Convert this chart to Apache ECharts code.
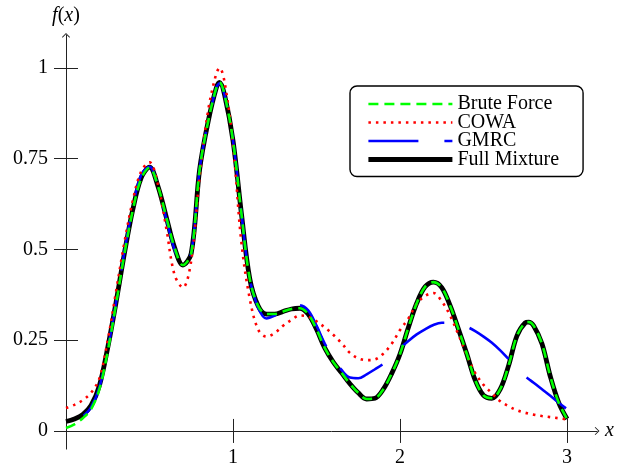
<!DOCTYPE html>
<html>
<head>
<meta charset="utf-8">
<script src="https://cdn.jsdelivr.net/npm/echarts@6/dist/echarts.min.js"></script>
<style>
html, body { margin: 0; padding: 0; background: #fff; }
#chart { width: 618px; height: 465px; }
</style>
</head>
<body>
<div id="chart"></div>
<script>
var xs = [0, 0.05, 0.1, 0.15, 0.2, 0.25, 0.3, 0.35, 0.4, 0.45, 0.5, 0.55, 0.6, 0.65, 0.7, 0.75,
	0.8, 0.85, 0.9, 0.92, 0.95, 1, 1.05, 1.1, 1.15, 1.2, 1.25, 1.3, 1.35, 1.4, 1.45, 1.5,
	1.55, 1.6, 1.65, 1.7, 1.75, 1.8, 1.85, 1.9, 1.95, 2, 2.05, 2.1, 2.15, 2.2, 2.25, 2.3,
	2.35, 2.4, 2.45, 2.5, 2.55, 2.6, 2.65, 2.7, 2.75, 2.77, 2.8, 2.85, 2.9, 2.95, 3];

var fullMixture = [0.026, 0.033, 0.045, 0.07, 0.125, 0.23, 0.355, 0.49, 0.61, 0.697, 0.727, 0.675, 0.59, 0.505, 0.457, 0.49,
	0.72, 0.85, 0.945, 0.96, 0.925, 0.8, 0.6, 0.42, 0.345, 0.322, 0.322, 0.329, 0.336, 0.338, 0.322, 0.28,
	0.228, 0.19, 0.16, 0.13, 0.105, 0.088, 0.09, 0.115, 0.158, 0.212, 0.285, 0.352, 0.397, 0.41, 0.395, 0.345,
	0.28, 0.212, 0.14, 0.098, 0.09, 0.115, 0.18, 0.262, 0.298, 0.3, 0.29, 0.24, 0.15, 0.078, 0.033];

var bruteForce = [0.008, 0.018, 0.035, 0.06, 0.115, 0.22, 0.35, 0.488, 0.608, 0.695, 0.725, 0.675, 0.59, 0.505, 0.457, 0.49,
	0.72, 0.85, 0.945, 0.96, 0.925, 0.8, 0.6, 0.42, 0.345, 0.322, 0.322, 0.329, 0.336, 0.338, 0.322, 0.28,
	0.228, 0.19, 0.16, 0.13, 0.105, 0.088, 0.09, 0.115, 0.158, 0.212, 0.285, 0.352, 0.397, 0.41, 0.395, 0.345,
	0.28, 0.212, 0.14, 0.098, 0.09, 0.115, 0.18, 0.262, 0.298, 0.3, 0.29, 0.24, 0.15, 0.078, 0.033];

var gmrc = [0.017, 0.025, 0.04, 0.065, 0.12, 0.225, 0.355, 0.495, 0.618, 0.705, 0.728, 0.675, 0.585, 0.5, 0.455, 0.49,
	0.72, 0.85, 0.945, 0.958, 0.925, 0.8, 0.6, 0.42, 0.34, 0.31, 0.318, 0.332, 0.342, 0.346, 0.332, 0.29,
	0.24, 0.2, 0.168, 0.147, 0.145, 0.156, 0.17, 0.185, 0.205, 0.228, 0.248, 0.266, 0.28, 0.292, 0.298, 0.298,
	0.294, 0.287, 0.275, 0.26, 0.243, 0.222, 0.198, 0.175, 0.15, 0.143, 0.133, 0.115, 0.097, 0.078, 0.06];

var cowa = [0.063, 0.072, 0.085, 0.105, 0.145, 0.25, 0.385, 0.52, 0.635, 0.715, 0.74, 0.68, 0.56, 0.43, 0.395, 0.47,
	0.7, 0.88, 0.985, 1, 0.96, 0.79, 0.52, 0.365, 0.28, 0.26, 0.27, 0.29, 0.306, 0.318, 0.315, 0.302,
	0.285, 0.265, 0.242, 0.215, 0.2, 0.195, 0.197, 0.213, 0.24, 0.278, 0.31, 0.35, 0.372, 0.38, 0.357, 0.318,
	0.265, 0.21, 0.16, 0.127, 0.104, 0.082, 0.068, 0.057, 0.05, 0.048, 0.045, 0.041, 0.038, 0.035, 0.032];

var xTicks = [1, 2, 3];
var yTicks = [0, 0.25, 0.5, 0.75, 1];
var legendNames = ['Brute Force', 'COWA', 'GMRC', 'Full Mixture'];

var serif = 'Liberation Serif';
var axisColor = '#222';
var arrow = 'path://M5 0L10 5.2L9.3 6L5 1.6L0.7 6L0 5.2Z';

function pairs(ys) {
	return xs.map(function(x, i) { return [x, ys[i]]; });
}

function lineSeries(name, ys, color, width, type, offset) {
	return {
		name: name,
		type: 'line',
		data: pairs(ys),
		symbol: 'none',
		smooth: 0.35,
		lineStyle: { color: color, width: width, type: type, dashOffset: offset || 0, cap: 'butt' },
		itemStyle: { color: color }
	};
}

var myChart = echarts.init(document.getElementById('chart'));

var mathName = { fontFamily: serif, fontSize: 20, color: '#000', rich: { i: { fontFamily: serif, fontSize: 20, fontStyle: 'italic', color: '#000' } } };

var option = {
	animation: false,
	grid: { left: 66, right: 20.9, top: 35.3, bottom: 15.9, outerBoundsMode: 'none' },
	legend: {
		data: legendNames,
		orient: 'vertical',
		left: 350,
		top: 86,
		padding: [8, 24, 7, 16],
		itemWidth: 84,
		itemHeight: 10,
		itemGap: -1.5,
		borderColor: '#000',
		borderWidth: 1.4,
		borderRadius: 7,
		selectedMode: false,
		itemStyle: { opacity: 0 },
		lineStyle: { width: 'inherit', dashOffset: 0 },
		textStyle: { fontFamily: serif, fontSize: 20, color: '#000' }
	},
	xAxis: [{
		type: 'value',
		min: 0,
		max: 3.18,
		position: 'bottom',
		name: '{i|x}',
		nameLocation: 'end',
		nameGap: 8,
		nameTextStyle: mathName,
		axisLine: { onZero: true, onZeroAxisIndex: 0, symbol: ['none', arrow], symbolSize: [8, 5], lineStyle: { color: axisColor, width: 1 } },
		axisTick: { customValues: xTicks, length: 12, lineStyle: { color: axisColor, width: 1 } },
		axisLabel: { customValues: xTicks, margin: -1, fontFamily: serif, fontSize: 20, color: '#000' },
		splitLine: { show: false }
	}, {
		type: 'value',
		min: 0,
		max: 3.18,
		position: 'top',
		axisLine: { show: false, onZero: true, onZeroAxisIndex: 1 },
		axisTick: { customValues: xTicks, length: 12, lineStyle: { color: axisColor, width: 1 } },
		axisLabel: { show: false },
		splitLine: { show: false }
	}],
	yAxis: [{
		type: 'value',
		min: -0.05,
		max: 1.09,
		position: 'left',
		name: '{i|f}({i|x})',
		nameLocation: 'end',
		nameGap: 10,
		nameTextStyle: mathName,
		axisLine: { onZero: true, onZeroAxisIndex: 0, symbol: ['none', arrow], symbolSize: [8, 5], lineStyle: { color: axisColor, width: 1 } },
		axisTick: { customValues: yTicks, length: 12, lineStyle: { color: axisColor, width: 1 } },
		axisLabel: { customValues: yTicks, margin: 18, fontFamily: serif, fontSize: 20, color: '#000' },
		splitLine: { show: false }
	}, {
		type: 'value',
		min: -0.05,
		max: 1.09,
		position: 'right',
		axisLine: { show: false, onZero: true, onZeroAxisIndex: 1 },
		axisTick: { customValues: yTicks, length: 12, lineStyle: { color: axisColor, width: 1 } },
		axisLabel: { show: false },
		splitLine: { show: false }
	}],
	// drawn bottom to top: black, blue, red, green
	series: [
		lineSeries('Full Mixture', fullMixture, '#000000', 4.8, 'solid'),
		lineSeries('GMRC', gmrc, '#0000ff', 2.6, [50, 26], 56),
		lineSeries('COWA', cowa, '#ff0000', 2.6, [2.5, 5]),
		lineSeries('Brute Force', bruteForce, '#00ff00', 2.6, [10, 6])
	]
};

myChart.setOption(option);
</script>
</body>
</html>
